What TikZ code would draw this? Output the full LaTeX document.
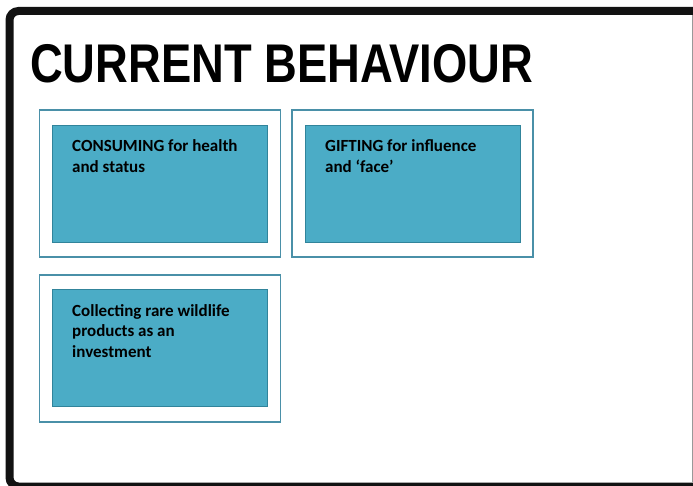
\documentclass[tikz,border=0pt]{standalone}
\usepackage{fontspec}
\setmainfont{Carlito}
\newfontfamily\titlefont{Liberation Sans}
\definecolor{aqua}{HTML}{4BACC6}
\definecolor{aquadark}{HTML}{31849B}
\definecolor{aquaframe}{HTML}{4A90A8}
\tikzset{
  outerbox/.style={draw=aquaframe, line width=1.8pt, fill=white, minimum width=241pt, minimum height=147pt, inner sep=0pt},
  innerbox/.style={draw=aquadark, line width=1pt, fill=aqua, minimum width=215pt, minimum height=117pt, inner sep=0pt},
  boxtext/.style={anchor=base west, align=left, inner sep=0pt, font=\bfseries\fontsize{17}{20.7}\selectfont}
}
\begin{document}
\begin{tikzpicture}[x=1pt,y=-1pt]
\useasboundingbox (0,0) rectangle (693,486);
\fill[white] (0,0) rectangle (693,486);
% frame
\draw[line width=8pt, rounded corners=9pt, color=black!93] (697,11) -- (9.5,11) -- (9.5,486.5) -- (697,486.5);
\draw[line width=1pt, color=black!40] (692,15) -- (692,482);
\node at (30,82.7) [anchor=base west, inner sep=0pt, xscale=0.832](title){\titlefont\bfseries\fontsize{54.5}{60}\selectfont CURRENT BEHAVIOUR};
% boxes
\node at (160,183.5) [outerbox](C1){};
\node at (412.5,183.5) [outerbox](G1){};
\node at (160,348.3) [outerbox](I1){};
\node at (160.3,183.7) [innerbox](C2){};
\node at (413.3,184) [innerbox](G2){};
\node at (160.3,347.8) [innerbox](I2){};
% text (base = last line)
\node at (72,172.2) [boxtext](Ctext){CONSUMING for health\\and status};
\node at (325,172.2) [boxtext](Gtext){GIFTING for influence\\and ‘face’};
\node at (72,357.4) [boxtext](Itext){Collecting rare wildlife\\products as an\\investment};
\end{tikzpicture}
\end{document}
